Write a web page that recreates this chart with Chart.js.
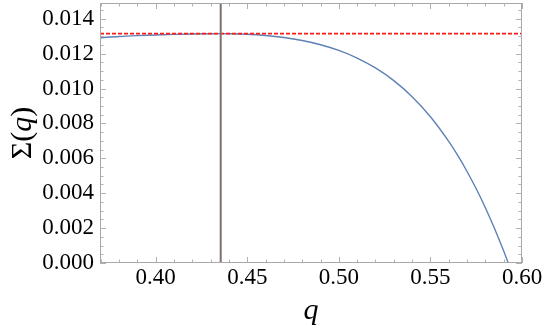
<!DOCTYPE html>
<html>
<head>
<meta charset="utf-8">
<script src="https://cdn.jsdelivr.net/npm/chart.js@4.4.1/dist/chart.umd.min.js"></script>
<style>
  html, body { margin: 0; padding: 0; background: #fff; }
  #wrap { width: 545px; height: 334px; }
</style>
</head>
<body>
<div id="wrap"><canvas id="sigmaChart"></canvas></div>
<script>
// values
var qVals = [0.37, 0.38, 0.39, 0.40, 0.41, 0.42, 0.43, 0.4355, 0.44, 0.45, 0.46, 0.47, 0.48, 0.49,
             0.50, 0.51, 0.52, 0.53, 0.54, 0.55, 0.56, 0.565, 0.57, 0.575, 0.58, 0.585, 0.59, 0.5925];
var sigmaVals = [0.01291, 0.01298, 0.01303, 0.01307, 0.01310, 0.013125, 0.01314, 0.013143, 0.013140, 0.013107,
                 0.013036, 0.012920, 0.012748, 0.012508, 0.012181, 0.011745, 0.011178, 0.010449, 0.009529, 0.008380,
                 0.006966, 0.006147, 0.005244, 0.004253, 0.003166, 0.001980, 0.000686, 0];
var qPeak = 0.4355;
var sigmaPeak = 0.013143;

var xTickVals = [0.40, 0.45, 0.50, 0.55, 0.60];
var yTickVals = [0.000, 0.002, 0.004, 0.006, 0.008, 0.010, 0.012, 0.014];
var xMin = 0.3696, xMax = 0.60;
var yMin = 0, yMax = 0.0149;

var curve = [];
for (var k = 0; k < qVals.length; k++) {
	curve.push({x: qVals[k], y: sigmaVals[k]});
}

const serif = "'Liberation Serif', 'DejaVu Serif', serif";

// frame, inner ticks and axis titles, Mathematica style
var frameTicks = {
	id: 'frameTicks',
	afterDatasetsDraw: function(chart) {
		var c = chart.ctx, a = chart.chartArea;
		var xs = chart.scales.x, ys = chart.scales.y;
		c.save();
		c.strokeStyle = '#a8a8a8';
		c.lineWidth = 1;
		c.strokeRect(a.left + 0.5, a.top + 0.5, a.right - a.left - 1, a.bottom - a.top - 1);

		c.strokeStyle = '#b0b0b0';
		c.beginPath();
		for (var i = 37; i <= 60; i++) {
			var px = Math.round(xs.getPixelForValue(i / 100)) + 0.5;
			var len = (i % 5 === 0) ? 6 : 3.5;
			c.moveTo(px, a.bottom); c.lineTo(px, a.bottom - len);
			c.moveTo(px, a.top); c.lineTo(px, a.top + len);
		}
		for (var j = 0; j <= 29; j++) {
			var py = Math.round(ys.getPixelForValue(j * 0.0005)) + 0.5;
			var ln = (j % 4 === 0) ? 6 : 3.5;
			c.moveTo(a.left, py); c.lineTo(a.left + ln, py);
			c.moveTo(a.right, py); c.lineTo(a.right - ln, py);
		}
		c.stroke();

		// axis titles
		c.fillStyle = '#000';
		c.textBaseline = 'alphabetic';
		c.textAlign = 'center';
		c.font = 'italic 30px ' + serif;
		c.fillText('q', (a.left + a.right) / 2, 319);

		c.translate(31, (a.top + a.bottom) / 2);
		c.rotate(-Math.PI / 2);
		var parts = [['Σ(', 'normal 30px '], ['q', 'italic 30px '], [')', 'normal 30px ']];
		var total = 0;
		parts.forEach(function(p) { c.font = p[1] + serif; total += c.measureText(p[0]).width; });
		var cx = -total / 2;
		c.textAlign = 'left';
		parts.forEach(function(p) {
			c.font = p[1] + serif;
			c.fillText(p[0], cx, 0);
			cx += c.measureText(p[0]).width;
		});
		c.restore();
	}
};

var chartSigma = new Chart(document.getElementById('sigmaChart').getContext('2d'), {
	type: 'scatter',
	data: {
		datasets: [
			{
				label: 'Sigma(q)',
				data: curve,
				showLine: true,
				borderColor: '#5e81b5',
				borderWidth: 1.4,
				pointRadius: 0,
				cubicInterpolationMode: 'monotone',
				order: 3
			},
			{
				label: 'max',
				data: [{x: xMin, y: sigmaPeak}, {x: xMax, y: sigmaPeak}],
				showLine: true,
				borderColor: '#ff1a1a',
				borderWidth: 1.7,
				borderDash: [4, 2],
				pointRadius: 0,
				order: 2
			},
			{
				label: 'q*',
				data: [{x: qPeak, y: yMin}, {x: qPeak, y: yMax}],
				showLine: true,
				borderColor: '#7d6f6b',
				borderWidth: 2,
				pointRadius: 0,
				order: 1
			}
		]
	},
	options: {
		responsive: true,
		maintainAspectRatio: false,
		animation: false,
		layout: { padding: { top: 3, right: 23, left: 0, bottom: 0 } },
		plugins: { legend: { display: false }, tooltip: { enabled: false } },
		scales: {
			x: {
				type: 'linear',
				min: xMin,
				max: xMax,
				border: { display: false },
				grid: { display: false, drawTicks: false },
				afterBuildTicks: function(scale) {
					scale.ticks = xTickVals.map(function(v) { return {value: v}; });
				},
				afterFit: function(scale) { scale.height = 71; },
				ticks: {
					color: '#000',
					padding: 1,
					maxRotation: 0,
					font: { family: serif, size: 23 },
					callback: function(v) { return v.toFixed(2); }
				}
			},
			y: {
				type: 'linear',
				min: yMin,
				max: yMax,
				border: { display: false },
				grid: { display: false, drawTicks: false },
				afterBuildTicks: function(scale) {
					scale.ticks = yTickVals.map(function(v) { return {value: v}; });
				},
				afterFit: function(scale) {
					scale.width = 100;
					scale.paddingTop = 0;
					scale.paddingBottom = 0;
				},
				ticks: {
					color: '#000',
					padding: 6,
					font: { family: serif, size: 23 },
					callback: function(v) { return v.toFixed(3); }
				}
			}
		}
	},
	plugins: [frameTicks]
});
</script>
</body>
</html>
